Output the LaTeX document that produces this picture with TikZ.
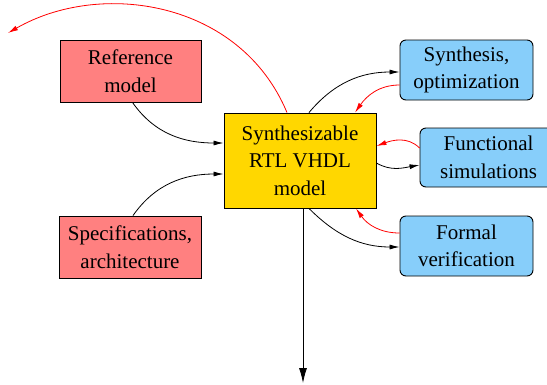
\documentclass[tikz,border=0pt]{standalone}
\usepackage{fontspec}
\setmainfont{Liberation Serif}
\usetikzlibrary{arrows.meta,calc}
\definecolor{redbox}{HTML}{FF8080}
\definecolor{goldbox}{HTML}{FFD700}
\definecolor{bluebox}{HTML}{87CEFA}
\tikzset{
  box/.style={draw=black, line width=0.9pt, align=center, inner sep=0pt,
    font=\fontsize{21}{27.5}\selectfont},
  inbox/.style={box, fill=redbox},
  corebox/.style={box, fill=goldbox},
  toolbox/.style={box, fill=bluebox, rounded corners=6pt},
  conn/.style={line width=0.8pt, -{Latex[length=10pt,width=5pt]}},
  bigconn/.style={line width=0.8pt, -{Latex[length=15pt,width=8pt]}},
  back/.style={conn, draw=red}
}
\begin{document}
\begin{tikzpicture}[x=1pt, y=-1pt]
  \useasboundingbox (0,0) rectangle (547,384);

  % input boxes
  \node[inbox, minimum width=141pt, minimum height=62pt] (ref) at (130.5,71) {Reference\\model};
  \node[inbox, minimum width=142pt, minimum height=62pt] (spec) at (130,247) {Specifications,\\architecture};

  % central model
  \node[corebox, minimum width=152pt, minimum height=95pt] (rtl) at (300,160.5) {Synthesizable\\RTL VHDL\\model};

  % tool boxes
  \node[toolbox, minimum width=133pt, minimum height=60pt] (syn) at (466.5,70) {Synthesis,\\optimization};
  \node[toolbox, minimum width=137pt, minimum height=59pt] (sim) at (488.5,157.5) {Functional\\simulations};
  \node[toolbox, minimum width=133pt, minimum height=60pt] (fv) at (466.5,246) {Formal\\verification};

  \coordinate (out) at (303,383);
  \coordinate (loop) at (8,33);

  % inputs into the model
  \draw[conn] ([xshift=2pt]ref.south) to[out=-55, in=180] ([yshift=17.5pt]rtl.west);
  \draw[conn] ([xshift=3pt]spec.north) to[out=55, in=180] ([yshift=-13.5pt]rtl.west);

  % model output
  \draw[bigconn] ([xshift=3pt]rtl.south) -- (out);

  % feedback loop to the top-left
  \draw[back] ([xshift=-13pt]rtl.north) .. controls (240,0) and (100,-20) .. (loop);

  % model <-> tools
  \draw[conn] ([xshift=9pt]rtl.north) to[out=50, in=180] ([yshift=-2pt]syn.west);
  \draw[back] ([yshift=-15pt]syn.west) to[out=180, in=55] ([xshift=55pt]rtl.north);

  \draw[back] ([yshift=9.5pt]sim.west) to[out=135, in=20] ([yshift=14.5pt]rtl.east);
  \draw[conn] ([yshift=-2.5pt]rtl.east) to[out=-30, in=190] ([yshift=-7.5pt]sim.west);

  \draw[back] ([yshift=13pt]fv.west) to[out=180, in=-55] ([xshift=56pt]rtl.south);
  \draw[conn] ([xshift=9pt]rtl.south) to[out=-45, in=180] ([yshift=-1pt]fv.west);
\end{tikzpicture}
\end{document}
